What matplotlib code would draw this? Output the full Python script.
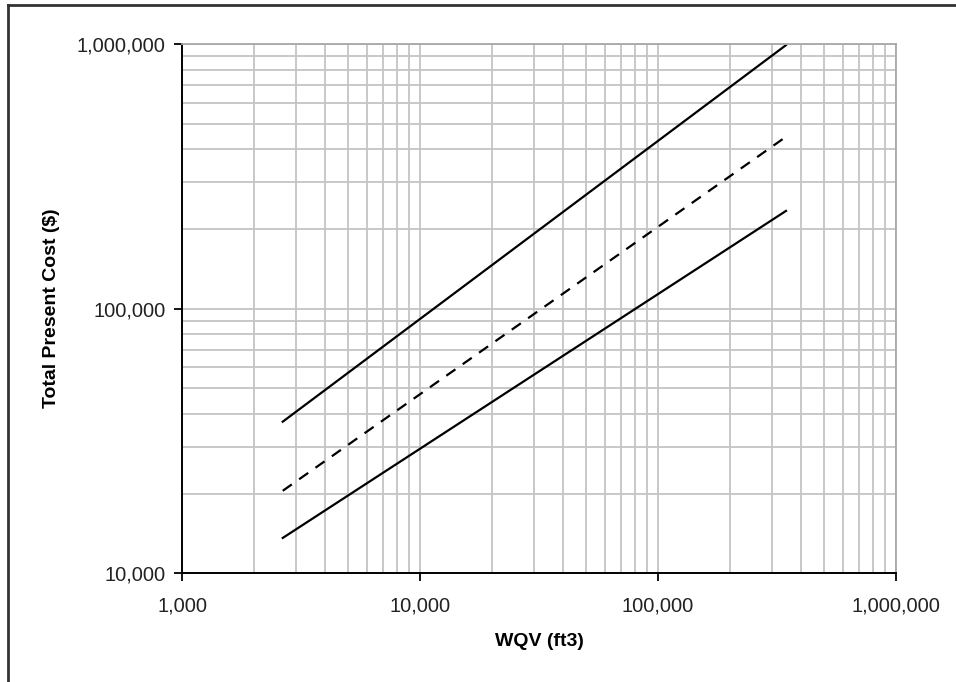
import matplotlib.pyplot as plt
from matplotlib.ticker import FuncFormatter, LogLocator, NullFormatter
from matplotlib.lines import Line2D

# values (end points of each straight log-log line)
wqv = [2650, 345000]
cost_high = [37400, 990000]
cost_mid = [20500, 446000]
cost_low = [13600, 234000]

x_ticks = [1e3, 1e4, 1e5, 1e6]
y_ticks = [1e4, 1e5, 1e6]

plt.rcParams['font.family'] = ['Liberation Sans', 'DejaVu Sans']

fig = plt.figure(figsize=(9.56, 6.82), dpi=100)
ax = fig.add_axes([0.1904, 0.1594, 0.7468, 0.7761])

ax.plot(wqv, cost_high, color='black', lw=1.6)
ax.plot(wqv, cost_mid, color='black', lw=1.6, linestyle=(0, (5, 4)))
ax.plot(wqv, cost_low, color='black', lw=1.6)

ax.set_xscale('log')
ax.set_yscale('log')
ax.set_xlim(1e3, 1e6)
ax.set_ylim(1e4, 1e6)

fmt = FuncFormatter(lambda v, p: '{:,.0f}'.format(v))
ax.set_xticks(x_ticks)
ax.set_yticks(y_ticks)
ax.xaxis.set_major_formatter(fmt)
ax.yaxis.set_major_formatter(fmt)
ax.xaxis.set_minor_locator(LogLocator(base=10, subs=range(2, 10)))
ax.yaxis.set_minor_locator(LogLocator(base=10, subs=range(2, 10)))
ax.xaxis.set_minor_formatter(NullFormatter())
ax.yaxis.set_minor_formatter(NullFormatter())

ax.grid(True, which='both', color='#c4c4c4', lw=1.3)
ax.set_axisbelow(True)
ax.tick_params(which='major', direction='out', length=6, width=1.3,
               labelsize=14.5, labelcolor='#222222')
ax.tick_params(axis='x', which='major', pad=11)
ax.tick_params(axis='y', which='major', pad=6)
ax.tick_params(which='minor', length=0)

for s in ['left', 'bottom']:
    ax.spines[s].set_linewidth(1.4)
for s in ['top', 'right']:
    ax.spines[s].set_color('#a8a8a8')
    ax.spines[s].set_linewidth(1.3)

ax.set_xlabel('WQV (ft3)', fontsize=14, fontweight='bold', labelpad=12)
ax.set_ylabel('Total Present Cost ($)', fontsize=14, fontweight='bold', labelpad=12)

# outer frame (only top and left edges show in the original)
fig.add_artist(Line2D([8 / 956, 1], [1 - 5 / 682, 1 - 5 / 682], color='#333333', lw=2))
fig.add_artist(Line2D([8 / 956, 8 / 956], [0, 1 - 5 / 682], color='#333333', lw=2))

fig.savefig('out.png', dpi=100)
